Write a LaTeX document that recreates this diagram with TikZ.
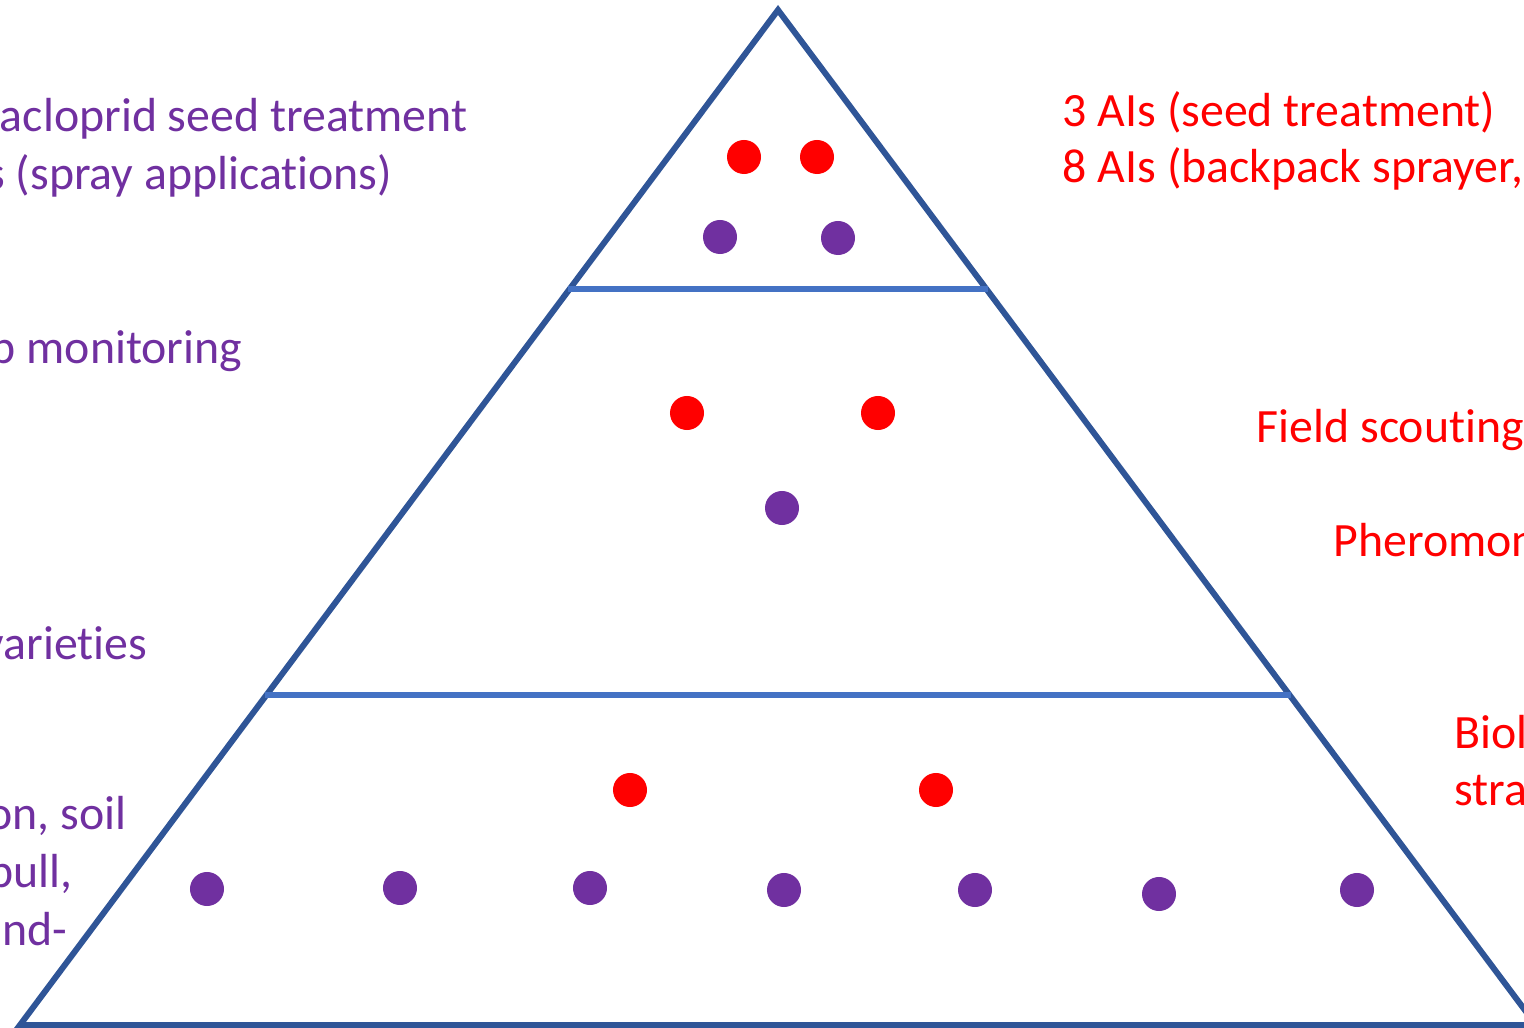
\documentclass[tikz,border=0pt]{standalone}
\usepackage{fontspec}
\setmainfont{Carlito}[RawFeature={-liga,-clig,-calt,-dlig}]
\usetikzlibrary{calc}
\definecolor{edgeblue}{HTML}{2F5597}
\definecolor{tierblue}{HTML}{4472C4}
\definecolor{tacticred}{HTML}{FF0000}
\definecolor{tacticpurple}{HTML}{7030A0}

\begin{document}
\begin{tikzpicture}[x=0.01cm,y=-0.01cm,
      dot/.style={circle,inner sep=0pt,minimum size=0.34cm},
      red dot/.style={dot,fill=tacticred},
      purple dot/.style={dot,fill=tacticpurple},
      tactic/.style={font=\fontsize{13.6}{16}\selectfont,inner sep=0pt},
      left text/.style={tactic,text=tacticpurple,anchor=base east},
      right text/.style={tactic,text=tacticred,anchor=base west},
      tier line/.style={draw=tierblue,line width=1.9pt,shorten <=-0.5pt,shorten >=-0.5pt}]
    \useasboundingbox (0,0) rectangle (1524,1028);
    \clip (0,0) rectangle (1524,1028);
    % pyramid
    \coordinate (apex) at (778,10);
    \coordinate (base left) at (20,1025);
    \coordinate (base right) at (1536,1025);
    \draw[edgeblue,line width=1.7pt,line join=miter] (apex) -- (base left) -- (base right) -- cycle;
    \coordinate (top left)  at ($(apex)!0.2749!(base left)$);
    \coordinate (top right) at ($(apex)!0.2749!(base right)$);
    \coordinate (mid left)  at ($(apex)!0.6749!(base left)$);
    \coordinate (mid right) at ($(apex)!0.6749!(base right)$);
    \draw[tier line] (top left) -- (top right);
    \draw[tier line] (mid left) -- (mid right);
    % dots, top tier
    \node[red dot]    (r1) at (744,157) {};
    \node[red dot]    (r2) at (817,157) {};
    \node[purple dot] (p1) at (720,237) {};
    \node[purple dot] (p2) at (838,238) {};
    % dots, middle tier
    \node[red dot]    (r3) at (687,413) {};
    \node[red dot]    (r4) at (878,413) {};
    \node[purple dot] (p3) at (782,508) {};
    % dots, bottom tier
    \node[red dot]    (r5) at (630,790) {};
    \node[red dot]    (r6) at (936,790) {};
    \foreach \x/\y [count=\i from 4] in {207/889,400/888,590/888,784/890,975/890,1159/894,1357/890}
      \node[purple dot] (p\i) at (\x,\y) {};
    % left labels
    \node[left text] (l1) at (468,132) {acloprid seed treatment};
    \node[left text] (l2) at (393,190) {s (spray applications)};
    \node[left text] (l3) at (243,364) {p monitoring};
    \node[left text] (l4) at (148,660) {varieties};
    \node[left text] (l5) at (127,830) {on, soil};
    \node[left text] (l6) at (73,887) {pull,};
    \node[left text] (l7) at (68,945) {nd-};
    % right labels
    \node[right text] (q1) at (1062,127) {3 AIs (seed treatment)};
    \node[right text] (q2) at (1062,183) {8 AIs (backpack sprayer,};
    \node[right text] (q3) at (1256,443) {Field scouting};
    \node[right text] (q4) at (1333,557) {Pheromon};
    \node[right text] (q5) at (1454,749) {Biol};
    \node[right text] (q6) at (1454,805) {stra};
\end{tikzpicture}
\end{document}
